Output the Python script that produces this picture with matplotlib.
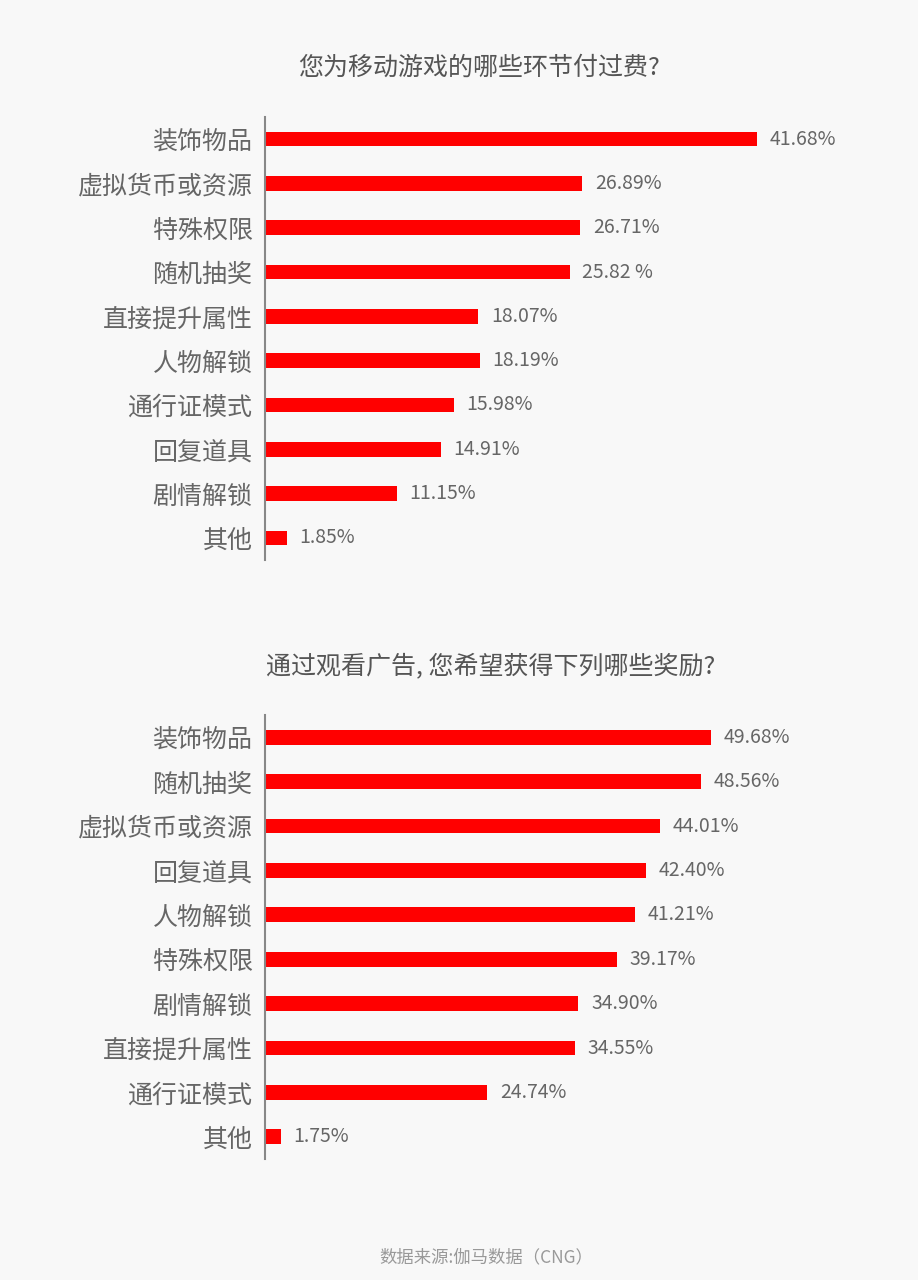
import matplotlib
matplotlib.use("Agg")
import matplotlib.pyplot as plt

plt.rcParams['font.family'] = ['Noto Sans CJK SC', 'DejaVu Sans']

# 上图：付费环节
cats_pay = ["装饰物品", "虚拟货币或资源", "特殊权限", "随机抽奖", "直接提升属性",
            "人物解锁", "通行证模式", "回复道具", "剧情解锁", "其他"]
vals_pay = [41.68, 26.89, 26.71, 25.82, 18.07, 18.19, 15.98, 14.91, 11.15, 1.85]
labels_pay = ["41.68%", "26.89%", "26.71%", "25.82 %", "18.07%",
              "18.19%", "15.98%", "14.91%", "11.15%", "1.85%"]

# 下图：广告奖励
cats_ad = ["装饰物品", "随机抽奖", "虚拟货币或资源", "回复道具", "人物解锁",
           "特殊权限", "剧情解锁", "直接提升属性", "通行证模式", "其他"]
vals_ad = [49.68, 48.56, 44.01, 42.40, 41.21, 39.17, 34.90, 34.55, 24.74, 1.75]
labels_ad = ["49.68%", "48.56%", "44.01%", "42.40%", "41.21%",
             "39.17%", "34.90%", "34.55%", "24.74%", "1.75%"]

bg = "#f8f8f8"
red = "#ff0000"
txt = "#666666"

fig = plt.figure(figsize=(9.18, 12.8), dpi=100, facecolor=bg)


def draw(ax, cats, vals, labels, xmax):
    ax.set_facecolor(bg)
    y = range(len(cats))
    ax.barh(y, vals, height=0.33, color=red)
    for i, (v, lab) in enumerate(zip(vals, labels)):
        ax.annotate(lab, (v, i), xytext=(9, 0), textcoords="offset points",
                    va="center", ha="left", fontsize=14, color=txt)
    ax.set_yticks(list(y))
    ax.set_yticklabels(cats, fontsize=18, color=txt)
    ax.set_ylim(len(cats) - 0.5, -0.5)
    ax.set_xlim(0, xmax)
    ax.set_xticks([])
    ax.tick_params(axis="y", length=0, pad=9)
    for s in ["top", "right", "bottom"]:
        ax.spines[s].set_visible(False)
    ax.spines["left"].set_color("#888888")
    ax.spines["left"].set_linewidth(1.5)


ax1 = fig.add_axes([265 / 918, 1 - 560 / 1280, 635 / 918, 443 / 1280])
draw(ax1, cats_pay, vals_pay, labels_pay, 53.8)

ax2 = fig.add_axes([265 / 918, 1 - 1159 / 1280, 635 / 918, 444 / 1280])
draw(ax2, cats_ad, vals_ad, labels_ad, 70.7)

fig.text(479 / 918, 1 - 68 / 1280, "您为移动游戏的哪些环节付过费?",
         ha="center", va="center", fontsize=18, color="#555555")
fig.text(491 / 918, 1 - 666 / 1280, "通过观看广告, 您希望获得下列哪些奖励?",
         ha="center", va="center", fontsize=18, color="#555555")
fig.text(486 / 918, 1 - 1257 / 1280, "数据来源:伽马数据（CNG）",
         ha="center", va="center", fontsize=12.5, color="#999999")

fig.savefig("out.png", dpi=100, facecolor=bg)
